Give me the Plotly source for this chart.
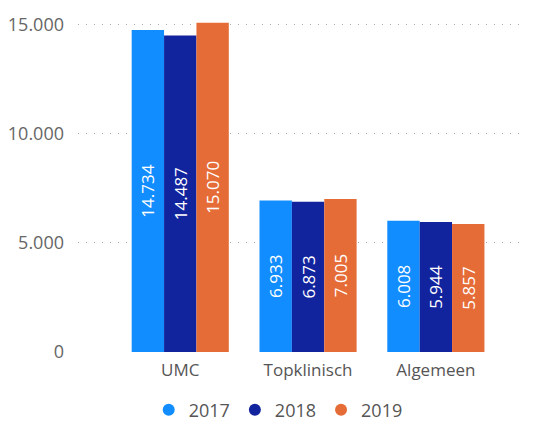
import plotly.graph_objects as go

categories = ["UMC", "Topklinisch", "Algemeen"]
years = ["2017", "2018", "2019"]
values_2017 = [14734, 6933, 6008]
values_2018 = [14487, 6873, 5944]
values_2019 = [15070, 7005, 5857]
colors = ["#118DFF", "#12239E", "#E66C37"]
y_ticks = [0, 5000, 10000, 15000]

series = [values_2017, values_2018, values_2019]
FONT = "Segoe UI, Open Sans, Noto Sans, sans-serif"

fig = go.Figure()
for yr, vals, col in zip(years, series, colors):
    fig.add_trace(go.Bar(
        x=categories, y=vals, name=yr, marker=dict(color=col, line=dict(width=0)),
        texttemplate="%{y:,.0f}", textposition="inside", insidetextanchor="middle",
        textangle=-90, textfont=dict(color="white", size=17, family=FONT),
        showlegend=False, hoverinfo="skip",
    ))
for yr, col in zip(years, colors):
    fig.add_trace(go.Scatter(
        x=[None], y=[None], mode="markers", name=yr,
        marker=dict(symbol="circle", size=16, color=col), showlegend=True,
    ))

fig.update_layout(
    width=525, height=414,
    margin=dict(l=70, r=0, t=14, b=70, autoexpand=False),
    paper_bgcolor="white", plot_bgcolor="white",
    separators=",.",
    barmode="group", bargap=0.24, bargroupgap=0,
    font=dict(family=FONT, color="#666666", size=15),
    xaxis=dict(range=[-0.8, 2.76], showgrid=False, showline=False, ticks="",
               tickfont=dict(size=17, color="#555555"), fixedrange=True,
               automargin=False, ticklabelstandoff=6),
    yaxis=dict(range=[0, 15100], tickvals=y_ticks, tickformat=",.0f",
               showgrid=True, gridcolor="#aaaaaa", griddash="1px,7px", gridwidth=1,
               zeroline=False, showline=False, ticks="", ticklabelstandoff=13,
               automargin=False,
               tickfont=dict(size=18, color="#666666")),
    legend=dict(orientation="h", x=0.44, xanchor="center", y=-0.176, yanchor="middle",
                font=dict(size=18, color="#555555"), itemwidth=30,
                tracegroupgap=0, itemsizing="constant"),
)

fig.write_html("out.html")
